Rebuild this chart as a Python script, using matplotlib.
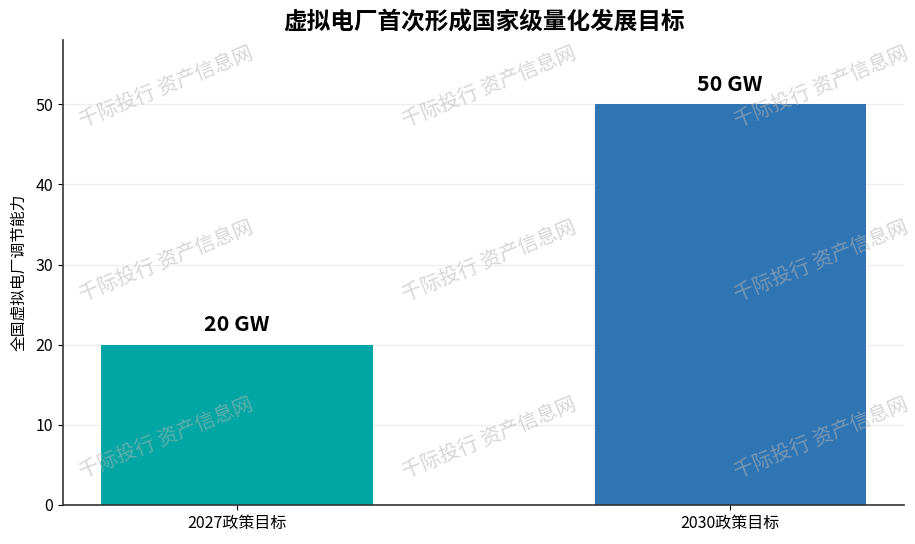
import numpy as np
import matplotlib
matplotlib.use('Agg')
import matplotlib.pyplot as plt

plt.rcParams['font.family'] = ['Noto Sans CJK SC', 'DejaVu Sans']

categories = ['2027政策目标', '2030政策目标']
values = [20, 50]
value_labels = ['20 GW', '50 GW']
colors = ['#00A6A3', '#2F74B3']

watermark = '千际投行 资产信息网'
wm_x = [0.182, 0.535, 0.898]
wm_y = [0.84, 0.52, 0.195]

fig = plt.figure(figsize=(9.15, 5.44), dpi=100)
ax = fig.add_axes([0.069, 0.0717, 0.919, 0.8547])

x = np.arange(len(categories))
ax.bar(x, values, width=0.55, color=colors, zorder=2)
for xi, v, lab in zip(x, values, value_labels):
    ax.text(xi, v + 1.2, lab, ha='center', va='bottom', fontsize=15.5,
            fontweight='bold', zorder=3)

ax.set_xticks(x)
ax.set_xticklabels(categories, fontsize=11.5)
ax.set_ylim(0, 58)
ax.set_yticks([0, 10, 20, 30, 40, 50])
ax.tick_params(axis='y', labelsize=11.5)
ax.set_ylabel('全国虚拟电厂调节能力', fontsize=11.3, labelpad=6)
ax.set_title('虚拟电厂首次形成国家级量化发展目标', fontsize=17,
             fontweight='bold', pad=8)
ax.grid(axis='y', color='#eeeeee', linewidth=1, zorder=0)
ax.spines['top'].set_visible(False)
ax.spines['right'].set_visible(False)
for s in ['left', 'bottom']:
    ax.spines[s].set_color('#333333')
    ax.spines[s].set_linewidth(1.2)

# watermark
for wy in wm_y:
    for wx in wm_x:
        fig.text(wx, wy, watermark, fontsize=14.5, color='#b4b4b4', alpha=0.55,
                 fontweight='light', rotation=22, ha='center', va='center',
                 zorder=10)

fig.savefig('out.png', dpi=100)
